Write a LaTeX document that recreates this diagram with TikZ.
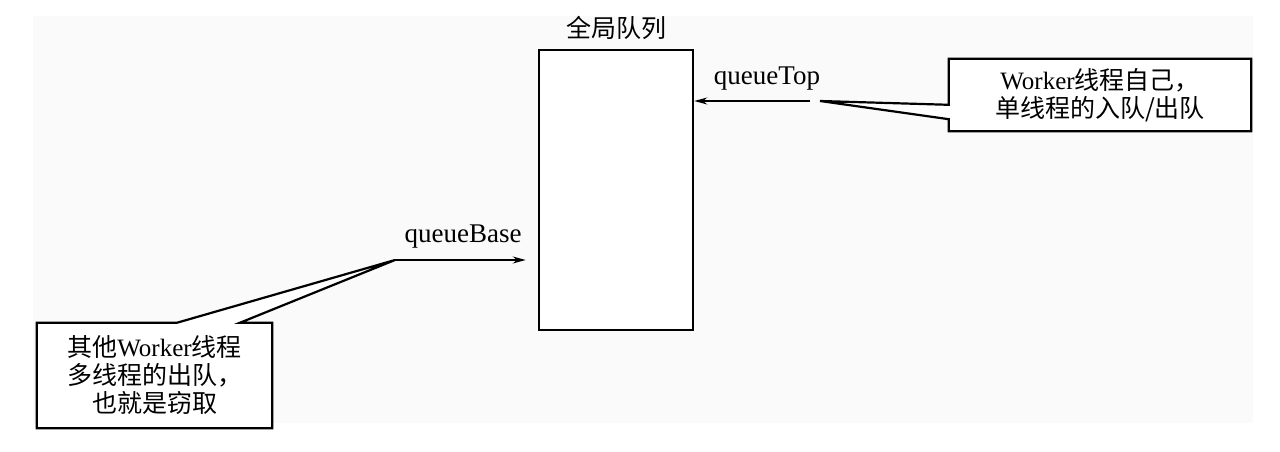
\documentclass[tikz,border=0pt]{standalone}
\usepackage{fontspec}
\setmainfont{Liberation Serif}
\newfontfamily\cjk{Noto Sans CJK SC}
\usetikzlibrary{arrows.meta}
\begin{document}
\begin{tikzpicture}[x=1pt,y=-1pt,
  box/.style={draw=black,line width=2.6pt,fill=white},
  lbl/.style={font=\fontsize{27}{30}\selectfont,inner sep=0pt},
  cjktxt/.style={font=\fontsize{25}{28}\selectfont\cjk,align=center,inner sep=0pt},
  conn/.style={line width=1.3pt,-{Stealth[length=13pt,width=7pt]}},
  callout/.style={draw=black,line width=2.2pt,fill=white,line join=miter}]
\useasboundingbox (0,0) rectangle (1280,452);
\fill[white] (0,0) rectangle (1280,452);
\fill[fill={rgb,255:red,250;green,250;blue,250}] (33,16) rectangle (1253,423);
% queue
\node (q) [box,minimum width=154pt,minimum height=280pt,inner sep=0pt] at (616,190) {};
\node (title) [cjktxt] at (616,28) {全局队列};
% queueTop
\node (qtop) [lbl] at (767,79) {queueTop};
\coordinate (topstart) at (810,101);
\draw[conn] (topstart) -- (topstart -| q.east);
% queueBase
\node (qbase) [lbl] at (463,237) {queueBase};
\coordinate (basestart) at (395,260);
\draw[conn] (basestart) -- ([xshift=-12pt]basestart -| q.west);
% right callout
\node (rbox) [minimum width=302pt,minimum height=72pt,inner sep=0pt] at (1100,95) {};
\coordinate (rtip) at (820,101);
\draw[callout] (rbox.north west) -- (rbox.north east) -- (rbox.south east) -- (rbox.south west)
  -- ([yshift=12pt]rbox.south west) -- (rtip) -- ([yshift=-46pt]rbox.north west) -- cycle;
\node (rtext) [cjktxt] at (rbox.center) {{\rmfamily Worker}线程自己，\\单线程的入队/出队};
% left callout
\node (lbox) [minimum width=235pt,minimum height=105pt,inner sep=0pt] at (154.5,375.5) {};
\coordinate (ltip) at (basestart);
\draw[callout] (lbox.north west) -- ([xshift=140pt]lbox.north west) -- (ltip)
  -- ([xshift=203pt]lbox.north west) -- (lbox.north east) -- (lbox.south east)
  -- (lbox.south west) -- cycle;
\node (ltext) [cjktxt] at (lbox.center) {其他{\rmfamily Worker}线程\\多线程的出队，\\也就是窃取};
\end{tikzpicture}
\end{document}
